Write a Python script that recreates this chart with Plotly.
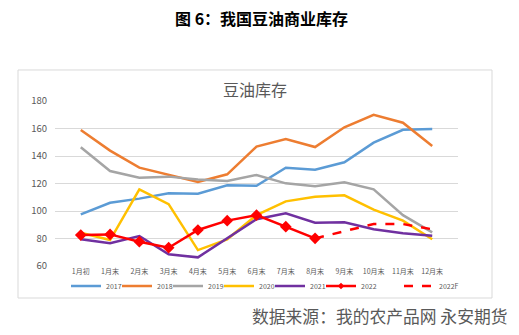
import plotly.graph_objects as go

categories = ["1月初", "1月末", "2月末", "3月末", "4月末", "5月末", "6月末",
              "7月末", "8月末", "9月末", "10月末", "11月末", "12月末"]
s2017 = [97.6, 106, 109, 112.9, 112.6, 118.7, 118.4, 131.5, 130, 135.4, 149.7, 159.1, 159.6]
s2018 = [158.9, 143.9, 131.5, 126.2, 121.1, 126.7, 146.8, 152.4, 146.5, 160.9, 170, 164.2, 147.3]
s2019 = [146.3, 129.1, 124.2, 125, 123, 121.8, 126.2, 120.1, 118, 120.9, 115.8, 97, 84.5]
s2020 = [84.2, 78.9, 115.8, 105, 71.6, 79.4, 97, 107, 110.4, 111.4, 101, 93, 79.4]
s2021 = [79.4, 76.5, 81.8, 68.5, 66.3, 80.1, 94, 98.3, 91.5, 91.8, 86.7, 83.8, 82]
s2022 = [82.5, 83, 77.7, 73.3, 86.2, 93, 97, 88.6, 80.1, None, None, None, None]
s2022F = [None, None, None, None, None, None, None, None, 80.1, 85.5, 90.5, 90.5, 86.7]

yticks = [60, 80, 100, 120, 140, 160, 180]

FONT = "Noto Sans CJK SC"
GRAY = "#595959"
EMPTY = [None] * len(categories)

fig = go.Figure()
series = [
    ("2017", s2017, "#5B9BD5"),
    ("2018", s2018, "#ED7D31"),
    ("2019", s2019, "#A5A5A5"),
    ("2020", s2020, "#FFC000"),
    ("2021", s2021, "#7030A0"),
]
for name, vals, col in series:
    fig.add_trace(go.Scatter(x=categories, y=vals, name=name, mode="lines",
                             line=dict(color=col, width=2.5)))
fig.add_trace(go.Scatter(x=categories, y=s2022, name="2022", mode="lines+markers",
                         line=dict(color="#FF0000", width=2.5), showlegend=False,
                         marker=dict(symbol="diamond", size=9, color="#FF0000")))
# legend entry for 2022 with a small marker (as in the reference legend)
fig.add_trace(go.Scatter(x=categories, y=EMPTY, name="2022",
                         mode="lines+markers", line=dict(color="#FF0000", width=2.5),
                         marker=dict(symbol="diamond", size=5, color="#FF0000")))
# invisible spacer entry so the last visible legend label is not clipped
fig.add_trace(go.Scatter(x=categories, y=EMPTY, name=" ", mode="lines",
                         line=dict(color="rgba(0,0,0,0)", width=0), hoverinfo="skip"))
fig.add_trace(go.Scatter(x=categories, y=s2022F, name="2022F", mode="lines",
                         line=dict(color="#FF0000", width=2.5, dash="dash"),
                         legend="legend2"))

leg_common = dict(orientation="h", yanchor="middle", y=(266 - 286) / 165,
                  font=dict(size=7, color=GRAY), itemwidth=30,
                  bgcolor="rgba(0,0,0,0)")

fig.update_layout(
    width=519, height=335,
    margin=dict(l=55, r=61, t=101, b=69),
    paper_bgcolor="white", plot_bgcolor="white",
    font=dict(family=FONT, color=GRAY, size=8),
    showlegend=True,
    legend=dict(**leg_common, x=(66 - 55) / 403, xanchor="left", entrywidth=6),
    legend2=dict(**leg_common, x=(399 - 55) / 403, xanchor="left"),
    xaxis=dict(type="category", showgrid=False, showline=False, zeroline=False,
               tickfont=dict(size=7, color=GRAY), ticks=""),
    yaxis=dict(range=[60, 180], tickvals=yticks, showgrid=True, gridcolor="#D9D9D9",
               gridwidth=1, zeroline=False, showline=False,
               tickfont=dict(size=9.5, color=GRAY), ticklabelstandoff=7),
)

fig.add_shape(type="rect", xref="paper", yref="paper",
              x0=-0.0918, x1=1.0844, y0=-0.194, y1=1.188,
              line=dict(color="#D9D9D9", width=1), fillcolor="rgba(0,0,0,0)", layer="below")

fig.add_annotation(text="<b>图 6：我国豆油商业库存</b>", xref="paper", yref="paper",
                   x=(261 - 55) / 403, y=(266 - 18) / 165, xanchor="center", yanchor="middle",
                   showarrow=False, font=dict(family=FONT, size=16, color="#000000"))
fig.add_annotation(text="豆油库存", xref="paper", yref="paper",
                   x=(255 - 55) / 403, y=(266 - 89) / 165, xanchor="center", yanchor="middle",
                   showarrow=False, font=dict(family=FONT, size=16, color=GRAY))
fig.add_annotation(text="数据来源：我的农产品网 永安期货", xref="paper", yref="paper",
                   x=(509 - 55) / 403, y=(266 - 316) / 165, xanchor="right", yanchor="middle",
                   showarrow=False, font=dict(family=FONT, size=16.8, color=GRAY))

fig.write_html("out.html")
